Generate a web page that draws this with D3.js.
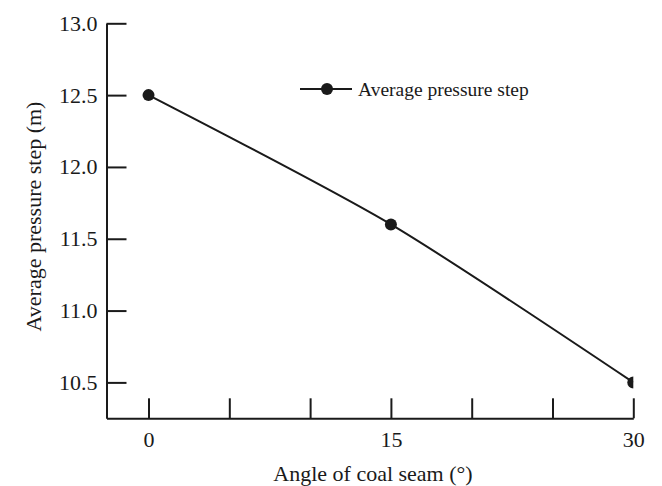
<!DOCTYPE html>
<html>
<head>
<meta charset="utf-8">
<script src="https://cdn.jsdelivr.net/npm/d3@7"></script>
<style>
  html, body { margin: 0; padding: 0; background: #fff; }
  svg { display: block; }
  text { font-family: "Liberation Serif", "Times New Roman", serif; fill: #1a1a1a; }
</style>
</head>
<body>
<svg id="chart" width="662" height="486"></svg>
<script>
const angles = [0, 15, 30];
const pressureStep = [12.5, 11.6, 10.5];
const seriesName = "Average pressure step";
const xTickValues = [0, 5, 10, 15, 20, 25, 30];
const xTickLabels = ["0", "", "", "15", "", "", "30"];
const yTickValues = [10.5, 11.0, 11.5, 12.0, 12.5, 13.0];
const xTitle = "Angle of coal seam (°)";
const yTitle = "Average pressure step (m)";

(function () {
const svg = d3.select("#chart");
const mLeft = 106.5, mRight = 633.3, mTop = 23.3, mBottom = 418.3;

const x = d3.scaleLinear().domain([-2.6, 30]).range([mLeft, mRight]);
const y = d3.scaleLinear().domain([10.25, 13.0]).range([mBottom, mTop]);

const ink = "#1a1a1a";

svg.append("defs").append("clipPath").attr("id", "plotclip")
  .append("rect").attr("x", mLeft).attr("y", 0).attr("width", mRight - mLeft).attr("height", mBottom);

const yAxis = d3.axisLeft(y).tickValues(yTickValues).tickFormat(d3.format(".1f"))
  .tickSizeInner(-20).tickSizeOuter(0).tickPadding(9);
const gy = svg.append("g").attr("transform", `translate(${mLeft},0)`).call(yAxis);
gy.selectAll("path, line").attr("stroke", ink).attr("stroke-width", 2);
gy.selectAll("text").style("font-size", "22px").style("font-family", "Liberation Serif").attr("fill", ink);

const xAxis = d3.axisBottom(x).tickValues(xTickValues).tickFormat((d, i) => xTickLabels[i])
  .tickSizeInner(-20).tickSizeOuter(0).tickPadding(13);
const gx = svg.append("g").attr("transform", `translate(0,${mBottom})`).call(xAxis);
gx.selectAll("path, line").attr("stroke", ink).attr("stroke-width", 2);
gx.selectAll("text").style("font-size", "22px").style("font-family", "Liberation Serif").attr("fill", ink);

const data = angles.map((a, i) => ({a, v: pressureStep[i]}));
const plot = svg.append("g").attr("clip-path", "url(#plotclip)");
const line = d3.line().x(d => x(d.a)).y(d => y(d.v)).curve(d3.curveCardinal.tension(0.3));
plot.append("path").datum(data).attr("d", line)
  .attr("fill", "none").attr("stroke", ink).attr("stroke-width", 2);
plot.selectAll("circle").data(data).join("circle")
  .attr("cx", d => x(d.a)).attr("cy", d => y(d.v)).attr("r", 6).attr("fill", ink);

const lg = svg.append("g");
lg.append("line").attr("x1", 300).attr("x2", 352).attr("y1", 89).attr("y2", 89)
  .attr("stroke", ink).attr("stroke-width", 2);
lg.append("circle").attr("cx", 327).attr("cy", 89).attr("r", 6).attr("fill", ink);
lg.append("text").attr("x", 358).attr("y", 96).style("font-size", "19.5px").text(seriesName);

svg.append("text").attr("x", 373).attr("y", 481).attr("text-anchor", "middle")
  .style("font-size", "22px").text(xTitle);
svg.append("text").attr("transform", "translate(41,216.5) rotate(-90)").attr("text-anchor", "middle")
  .style("font-size", "22px").text(yTitle);
})();
</script>
</body>
</html>
